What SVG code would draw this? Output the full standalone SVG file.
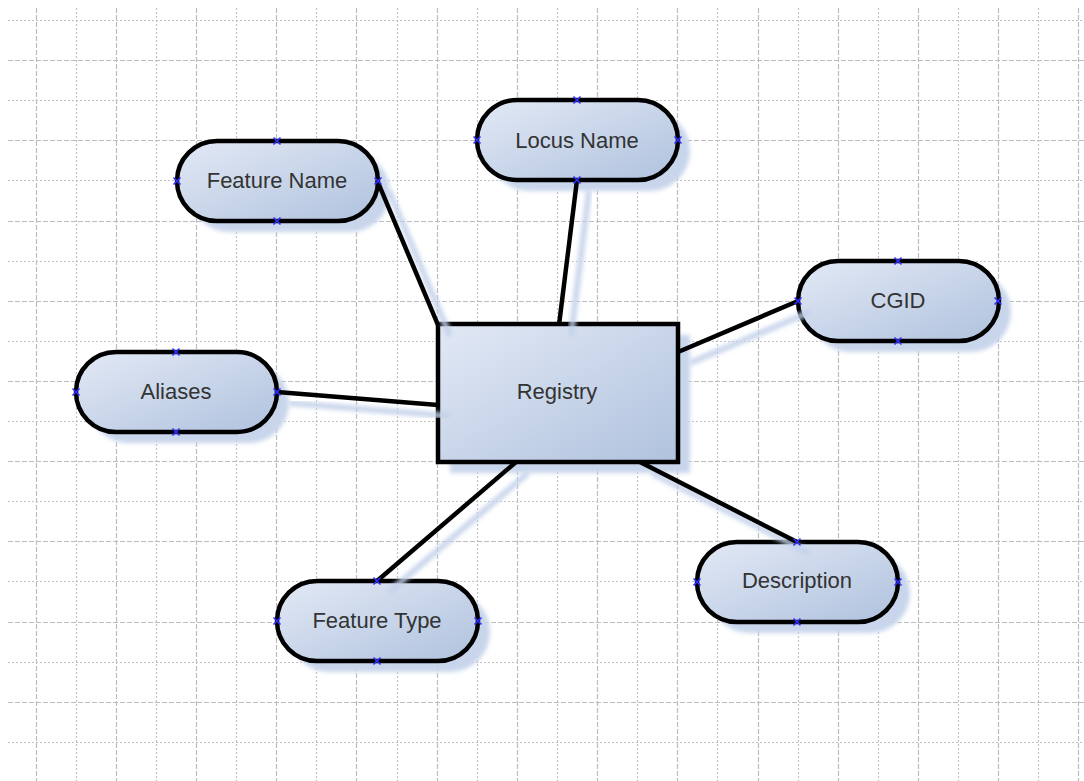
<svg xmlns="http://www.w3.org/2000/svg" xmlns:xlink="http://www.w3.org/1999/xlink" width="1084" height="781" viewBox="0 0 1084 781">
  <style>
    .major { stroke: #bdbdbd; stroke-width: 1.2; stroke-dasharray: 5 2; fill: none; }
    .minor { stroke: #c2c2c2; stroke-width: 1.2; stroke-dasharray: 2 2; fill: none; }
    .shape { fill: url(#bodyFill); stroke: #000; stroke-width: 4.5; }
    .shadow { fill: #c8d5eb; filter: url(#soft); }
    .link { stroke: #000; stroke-width: 4.5; fill: none; }
    .link-shadow { stroke: #c3d1ea; stroke-width: 6; fill: none; opacity: 0.9; filter: url(#soft); }
    .label { font-family: "Liberation Sans", Arial, sans-serif; font-size: 22px; fill: #333; text-anchor: middle; }
    .pin { stroke: #3030ff; stroke-width: 1.6; fill: none; }
  </style>
  <defs>
    <linearGradient id="bodyFill" x1="0" y1="0" x2="1" y2="1">
      <stop offset="0" stop-color="#e2e9f5"/>
      <stop offset="1" stop-color="#b0c2de"/>
    </linearGradient>
    <filter id="soft" x="-15%" y="-15%" width="130%" height="130%">
      <feGaussianBlur stdDeviation="2.2"/>
    </filter>
    <path id="pin" d="M-3.5,-3.5 L3.5,3.5 M-3.5,3.5 L3.5,-3.5"/>
  </defs>

  <rect width="1084" height="781" fill="#fff"/>

  <!-- page grid: major lines every second step -->
  <g id="grid">
    <path class="major" d="M36.5,8V781 M116.5,8V781 M196.5,8V781 M276.5,8V781 M356.5,8V781 M437.5,8V781 M517.5,8V781 M597.5,8V781 M677.5,8V781 M758.5,8V781 M838.5,8V781 M918.5,8V781 M998.5,8V781 M1078.5,8V781"/>
    <path class="minor" d="M76.5,8V781 M156.5,8V781 M236.5,8V781 M316.5,8V781 M397.5,8V781 M477.5,8V781 M557.5,8V781 M637.5,8V781 M717.5,8V781 M798.5,8V781 M878.5,8V781 M958.5,8V781 M1038.5,8V781"/>
    <path class="major" d="M8,60.5H1084 M8,140.5H1084 M8,221.5H1084 M8,301.5H1084 M8,381.5H1084 M8,461.5H1084 M8,541.5H1084 M8,622.5H1084 M8,702.5H1084"/>
    <path class="minor" d="M8,20.5H1084 M8,100.5H1084 M8,180.5H1084 M8,261.5H1084 M8,341.5H1084 M8,421.5H1084 M8,501.5H1084 M8,581.5H1084 M8,662.5H1084 M8,742.5H1084"/>
  </g>

  <!-- drop shadows of the shapes -->
  <g id="shape-shadows">
    <rect class="shadow" x="189" y="152" width="201" height="80" rx="40"/>
    <rect class="shadow" x="489" y="111" width="201" height="80" rx="40"/>
    <rect class="shadow" x="810" y="272" width="201" height="80" rx="40"/>
    <rect class="shadow" x="88" y="363" width="201" height="80" rx="40"/>
    <rect class="shadow" x="289" y="592" width="201" height="80" rx="40"/>
    <rect class="shadow" x="709" y="553" width="201" height="80" rx="40"/>
    <rect class="shadow" x="450" y="335" width="240" height="138"/>
  </g>

  <g id="registry">
    <rect class="shape" x="438" y="324" width="240" height="138"/>
    <text class="label" x="557" y="399">Registry</text>
  </g>

  <g id="feature-name">
    <rect class="shape" x="177" y="141" width="201" height="80" rx="40"/>
    <text class="label" x="277" y="188">Feature Name</text>
  </g>

  <g id="locus-name">
    <rect class="shape" x="477" y="100" width="201" height="80" rx="40"/>
    <text class="label" x="577" y="148">Locus Name</text>
  </g>

  <g id="cgid">
    <rect class="shape" x="798" y="261" width="201" height="80" rx="40"/>
    <text class="label" x="898" y="308">CGID</text>
  </g>

  <g id="aliases">
    <rect class="shape" x="76" y="352" width="201" height="80" rx="40"/>
    <text class="label" x="176" y="399">Aliases</text>
  </g>

  <g id="feature-type">
    <rect class="shape" x="277" y="581" width="201" height="80" rx="40"/>
    <text class="label" x="377" y="628">Feature Type</text>
  </g>

  <g id="description">
    <rect class="shape" x="697" y="542" width="201" height="80" rx="40"/>
    <text class="label" x="797" y="588">Description</text>
  </g>

  <!-- connectors with their shadows -->
  <g id="connectors">
    <g id="connector-shadows">
      <line class="link-shadow" x1="389" y1="191" x2="450" y2="336"/>
      <line class="link-shadow" x1="589" y1="191" x2="571" y2="336"/>
      <line class="link-shadow" x1="810" y1="312" x2="690" y2="363"/>
      <line class="link-shadow" x1="289" y1="403" x2="450" y2="416"/>
      <line class="link-shadow" x1="389" y1="592" x2="528" y2="473"/>
      <line class="link-shadow" x1="809" y1="553" x2="652" y2="473"/>
    </g>
    <line class="link" x1="377" y1="180" x2="438" y2="325"/>
    <line class="link" x1="577" y1="180" x2="559" y2="325"/>
    <line class="link" x1="798" y1="301" x2="678" y2="352"/>
    <line class="link" x1="277" y1="392" x2="438" y2="405"/>
    <line class="link" x1="377" y1="581" x2="516" y2="462"/>
    <line class="link" x1="797" y1="542" x2="640" y2="462"/>
  </g>

  <!-- connection points -->
  <g id="pins" class="pin">
    <use xlink:href="#pin" x="277" y="141"/><use xlink:href="#pin" x="277" y="221"/><use xlink:href="#pin" x="177" y="181"/><use xlink:href="#pin" x="378" y="181"/>
    <use xlink:href="#pin" x="577" y="100"/><use xlink:href="#pin" x="577" y="180"/><use xlink:href="#pin" x="477" y="140"/><use xlink:href="#pin" x="678" y="140"/>
    <use xlink:href="#pin" x="898" y="261"/><use xlink:href="#pin" x="898" y="341"/><use xlink:href="#pin" x="798" y="301"/><use xlink:href="#pin" x="998" y="301"/>
    <use xlink:href="#pin" x="176" y="352"/><use xlink:href="#pin" x="176" y="432"/><use xlink:href="#pin" x="76" y="392"/><use xlink:href="#pin" x="277" y="392"/>
    <use xlink:href="#pin" x="377" y="581"/><use xlink:href="#pin" x="377" y="661"/><use xlink:href="#pin" x="277" y="621"/><use xlink:href="#pin" x="478" y="621"/>
    <use xlink:href="#pin" x="797" y="542"/><use xlink:href="#pin" x="797" y="622"/><use xlink:href="#pin" x="697" y="582"/><use xlink:href="#pin" x="898" y="582"/>
  </g>
</svg>
